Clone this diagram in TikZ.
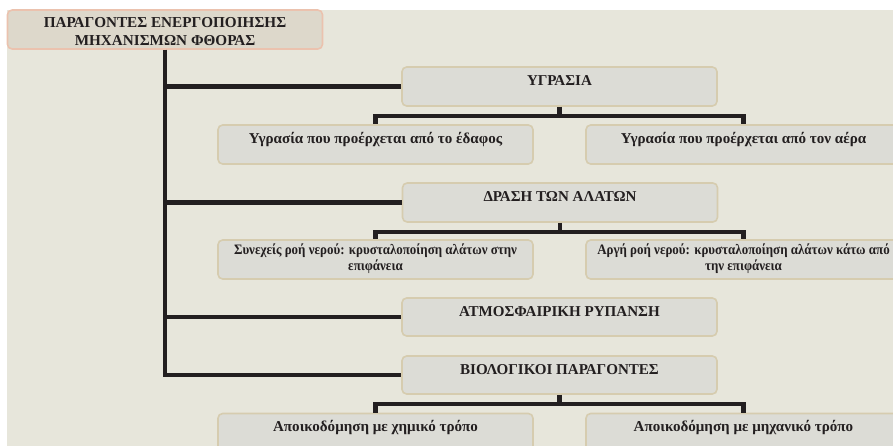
\documentclass[tikz,border=0pt]{standalone}
\usepackage{fontspec}
\setmainfont{Liberation Serif}
\newfontfamily\condserif[FakeStretch=0.9]{Liberation Serif}
\definecolor{bg}{HTML}{E7E6DB}
\definecolor{boxfill}{HTML}{DCDCD6}
\definecolor{boxline}{HTML}{D6CCAF}
\definecolor{titlefill}{HTML}{DDD8CB}
\definecolor{titleline}{HTML}{EBC2AE}
\definecolor{ink}{HTML}{231F20}
\newcommand{\bxt}[3]{\parbox[c][#1][t]{236.25pt}{\centering\rule{0pt}{#2}#3\par}}
\tikzset{
  gbox/.style={draw=boxline, line width=1.2pt, fill=boxfill, rounded corners=3.5pt, inner sep=0pt, text=ink,
    font=\fontsize{11.3}{12}\selectfont\bfseries},
  smallbox/.style={gbox, font=\condserif\fontsize{10.8}{12}\selectfont\bfseries},
  tbox/.style={gbox, draw=titleline, fill=titlefill, font=\fontsize{11.4}{13.5}\selectfont\bfseries},
  conn/.style={draw=ink, line width=3.4pt}
}
\begin{document}
\begin{tikzpicture}[x=0.75pt,y=-0.75pt]
\useasboundingbox (0,0) rectangle (893,446);
\clip (0,0) rectangle (893,446);
\fill[bg] (7,10) rectangle (893,446);
\node[tbox] (title) at (165,29.5) {\bxt{29.25pt}{13.2pt}{ΠΑΡΑΓΟΝΤΕΣ ΕΝΕΡΓΟΠΟΙΗΣΗΣ\\ΜΗΧΑΝΙΣΜΩΝ ΦΘΟΡΑΣ}};
\node[gbox] (ygr) at (559.5,86.5) {\bxt{29.25pt}{13.5pt}{ΥΓΡΑΣΙΑ}};
\node[gbox] (c1) at (375.5,144.5) {\bxt{29.25pt}{13.5pt}{Υγρασία που προέρχεται από το έδαφος}};
\node[gbox] (c2) at (743.5,144.5) {\bxt{29.25pt}{13.5pt}{Υγρασία που προέρχεται από τον αέρα}};
\node[gbox] (dra) at (560,202.5) {\bxt{29.25pt}{13.5pt}{ΔΡΑΣΗ ΤΩΝ ΑΛΑΤΩΝ}};
\node[smallbox] (c3) at (375.5,259.5) {\bxt{29.25pt}{10.5pt}{Συνεχείς ροή νερού: κρυσταλοποίηση αλάτων στην\\επιφάνεια}};
\node[smallbox] (c4) at (743.5,259.5) {\bxt{29.25pt}{10.5pt}{Αργή ροή νερού: κρυσταλοποίηση αλάτων κάτω από\\την επιφάνεια}};
\node[gbox] (atm) at (559.5,317) {\bxt{28.5pt}{13.5pt}{ΑΤΜΟΣΦΑΙΡΙΚΗ ΡΥΠΑΝΣΗ}};
\node[gbox] (bio) at (559.5,375) {\bxt{28.5pt}{13.5pt}{ΒΙΟΛΟΓΙΚΟΙ ΠΑΡΑΓΟΝΤΕΣ}};
\node[gbox] (c5) at (375.5,433) {\bxt{29.25pt}{13.5pt}{Αποικοδόμηση με χημικό τρόπο}};
\node[gbox] (c6) at (743.5,433) {\bxt{29.25pt}{13.5pt}{Αποικοδόμηση με μηχανικό τρόπο}};
\draw[conn] (title.south) |- (ygr.west);
\draw[conn] (title.south) |- (dra.west);
\draw[conn] (title.south) |- (atm.west);
\draw[conn] (title.south) |- (bio.west);
\draw[conn] (ygr.south) -- ++(0,9) -| (c1.north);
\draw[conn] (ygr.south) -- ++(0,9) -| (c2.north);
\draw[conn] (dra.south) -- ++(0,9) -| (c3.north);
\draw[conn] (dra.south) -- ++(0,9) -| (c4.north);
\draw[conn] (bio.south) -- ++(0,9) -| (c5.north);
\draw[conn] (bio.south) -- ++(0,9) -| (c6.north);
\end{tikzpicture}
\end{document}
